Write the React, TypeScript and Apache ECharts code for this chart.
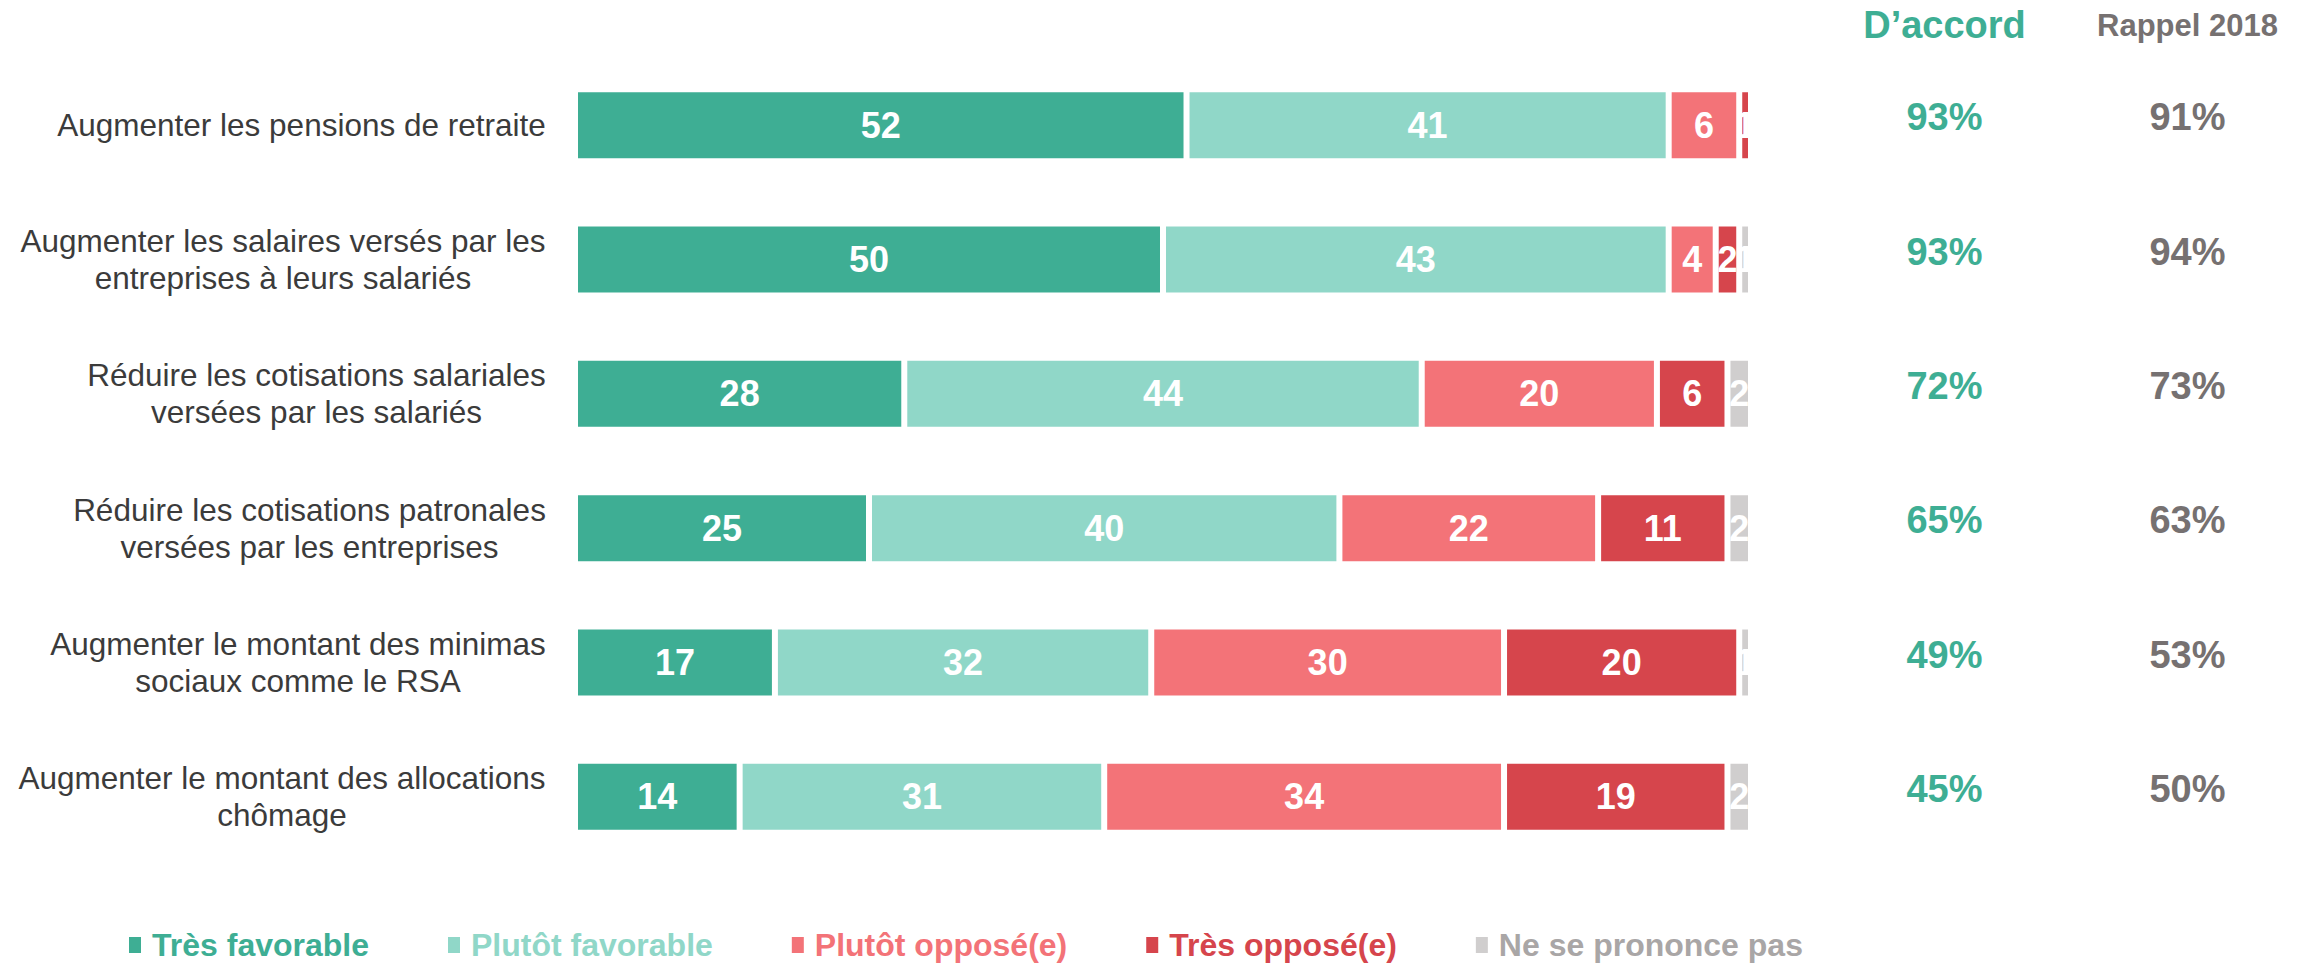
import React, { useEffect, useRef } from "react";
import * as echarts from "echarts";

const categories = [
  "Augmenter les pensions de retraite",
  "Augmenter les salaires versés par les\nentreprises à leurs salariés",
  "Réduire les cotisations salariales\nversées par les salariés",
  "Réduire les cotisations patronales\nversées par les entreprises",
  "Augmenter le montant des minimas\nsociaux comme le RSA",
  "Augmenter le montant des allocations\nchômage",
];
const seriesNames = [
  "Très favorable",
  "Plutôt favorable",
  "Plutôt opposé(e)",
  "Très opposé(e)",
  "Ne se prononce pas",
];
const tresFavorable = [52, 50, 28, 25, 17, 14];
const plutotFavorable = [41, 43, 44, 40, 32, 31];
const plutotOppose = [6, 4, 20, 22, 30, 34];
const tresOppose = [1, 2, 6, 11, 20, 19];
const nePrononcePas = [0, 1, 2, 2, 1, 2];
const summaryColumns = ["D’accord", "Rappel 2018"];
const daccord = [93, 93, 72, 65, 49, 45];
const rappel2018 = [91, 94, 73, 63, 53, 50];

const FONT = "'Liberation Sans', Arial, Helvetica, sans-serif";
const colors = ["#3eae94", "#90d7c8", "#f37378", "#d6454c", "#d0cece"];
const legendTextColors = ["#3eae94", "#90d7c8", "#f37378", "#d6454c", "#a9a6a6"];
const GREEN = "#3eae94";
const GREY = "#767171";

function measure(text: string, font: string): number {
  const c = document.createElement("canvas");
  const ctx = c.getContext("2d");
  if (!ctx) return text.length * 15;
  ctx.font = font;
  return ctx.measureText(text).width;
}

export default function App() {
  const ref = useRef<HTMLDivElement>(null);
  useEffect(() => {
    document.body.style.margin = "0";
    if (!ref.current) return;
    const chart = echarts.init(ref.current, undefined, { renderer: "svg" });
    const labelFontSize = 31.5;
    const rich: Record<string, any> = {};
    categories.forEach((c, i) => {
      const w = Math.max(
        ...c.split("\n").map((l) => measure(l, `${labelFontSize}px ${FONT}`))
      );
      rich["c" + i] = {
        width: Math.ceil(w) + 2,
        align: "center",
        fontSize: labelFontSize,
        fontFamily: FONT,
        color: "#3b3b3b",
        lineHeight: 37,
      };
    });
    const stacks = [tresFavorable, plutotFavorable, plutotOppose, tresOppose, nePrononcePas];
    const gridTop = 58;
    const gridBottom = 99;
    const barSeries = stacks.map((arr, k) => ({
      name: seriesNames[k],
      type: "bar",
      stack: "total",
      xAxisIndex: 0,
      yAxisIndex: 0,
      barWidth: 72,
      data: arr,
      itemStyle: { color: colors[k], borderColor: "#ffffff", borderWidth: 3 },
      label: {
        show: true,
        position: "inside",
        color: "#ffffff",
        fontSize: 36,
        fontWeight: "bold",
        fontFamily: FONT,
        formatter: (p: any) => (p.value ? String(p.value) : ""),
      },
    }));
    const pctSeries = [daccord, rappel2018].map((arr, col) => ({
      name: summaryColumns[col],
      type: "scatter",
      xAxisIndex: 1,
      yAxisIndex: 1,
      symbolSize: 1,
      itemStyle: { color: "rgba(0,0,0,0)", opacity: 1 },
      data: arr.map((v, i) => [col, i, v]),
      label: {
        show: true,
        position: "inside",
        offset: [0, -8],
        opacity: 1,
        color: col === 0 ? GREEN : GREY,
        fontSize: 38,
        fontWeight: "bold",
        fontFamily: FONT,
        formatter: (p: any) => p.value[2] + "%",
      },
    }));
    chart.setOption({
      animation: false,
      textStyle: { fontFamily: FONT },
      grid: [
        { left: 575, right: 562, top: gridTop, bottom: gridBottom },
        { left: 1823, right: 4, top: gridTop, bottom: gridBottom },
      ],
      xAxis: [
        { type: "value", gridIndex: 0, min: 0, max: 100, show: false },
        {
          type: "category",
          gridIndex: 1,
          position: "top",
          data: summaryColumns,
          axisLine: { show: false },
          axisTick: { show: false },
          splitLine: { show: false },
          axisLabel: {
            margin: 13,
            interval: 0,
            formatter: (v: string, i: number) => (i === 0 ? `{a|${v}}` : `{b|${v}}`),
            rich: {
              a: { color: GREEN, fontSize: 38, fontWeight: "bold", fontFamily: FONT, lineHeight: 40 },
              b: { color: GREY, fontSize: 31, fontWeight: "bold", fontFamily: FONT, lineHeight: 40 },
            },
          },
        },
      ],
      yAxis: [
        {
          type: "category",
          gridIndex: 0,
          inverse: true,
          data: categories,
          axisLine: { show: false },
          axisTick: { show: false },
          axisLabel: {
            margin: 28,
            interval: 0,
            align: "right",
            formatter: (v: string, i: number) =>
              v.split("\n").map((l) => `{c${i}|${l}}`).join("\n"),
            rich,
          },
        },
        {
          type: "category",
          gridIndex: 1,
          inverse: true,
          data: categories,
          show: false,
        },
      ],
      legend: {
        left: 129,
        top: 925,
        padding: 0,
        icon: "rect",
        itemWidth: 12,
        itemHeight: 16,
        itemGap: 79,
        selectedMode: false,
        textStyle: { fontSize: 32, fontWeight: "bold", fontFamily: FONT, lineHeight: 40, padding: [0, 0, 0, 6] },
        data: seriesNames.map((n, k) => ({
          name: n,
          itemStyle: { color: colors[k], borderWidth: 0 },
          textStyle: { color: legendTextColors[k], fontSize: 32, fontWeight: "bold", lineHeight: 40, padding: [0, 0, 0, 6] },
        })),
      },
      series: [...barSeries, ...pctSeries],
    });
    return () => chart.dispose();
  }, []);
  return <div ref={ref} style={{ width: 2313, height: 963 }} />;
}
